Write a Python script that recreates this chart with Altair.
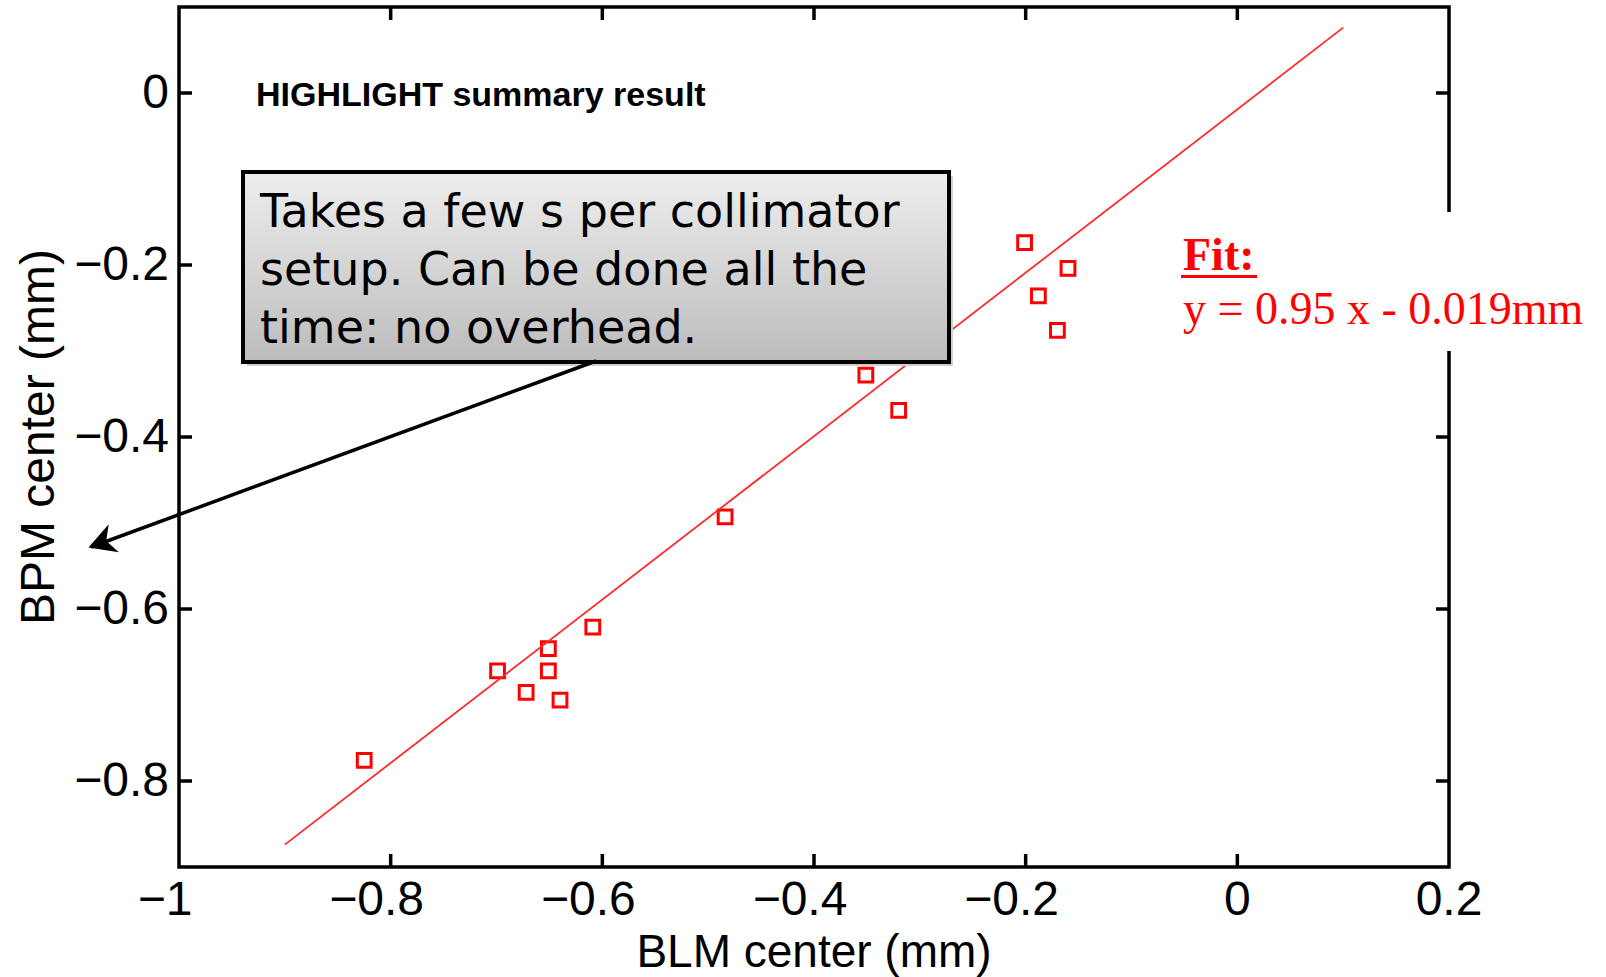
import altair as alt
import pandas as pd

# Beam centre found from BLM losses vs. centre from BPM readings (mm)
blm_center = [-0.825, -0.699, -0.672, -0.651, -0.651, -0.640, -0.609,
              -0.484, -0.351, -0.320, -0.201, -0.188, -0.170, -0.160]
bpm_center = [-0.776, -0.672, -0.697, -0.646, -0.672, -0.706, -0.621,
              -0.493, -0.328, -0.369, -0.174, -0.236, -0.276, -0.204]

# Linear fit y = slope * x + intercept, drawn across this BLM range
fit_slope = 0.95
fit_intercept = -0.019
fit_x = [-0.9, 0.1]

x_ticks = [-1, -0.8, -0.6, -0.4, -0.2, 0, 0.2]
x_tick_labels = ["\u22121", "\u22120.8", "\u22120.6", "\u22120.4", "\u22120.2", "0", "0.2"]
y_ticks = [-0.8, -0.6, -0.4, -0.2, 0]
y_tick_labels = ["\u22120.8", "\u22120.6", "\u22120.4", "\u22120.2", "0"]

x_title = "BLM center (mm)"
y_title = "BPM center (mm)"
note_text = "HIGHLIGHT summary result"
callout_lines = ["Takes a few s per collimator",
                 "setup. Can be done all the",
                 "time: no overhead."]
fit_heading = "Fit:"
fit_equation = f"y = {fit_slope:g} x - {abs(fit_intercept):g}mm"

# ---------------------------------------------------------------- layout
W, H = 1270, 860
SANS = "Liberation Sans"
SERIF = "Liberation Serif"
RED = "#ff0000"
LABEL_SIZE = 48

xs = alt.Scale(domain=[-1, 0.2], nice=False, zero=False)
ys = alt.Scale(domain=[-0.9, 0.1], nice=False, zero=False)

points_df = pd.DataFrame({"blm": blm_center, "bpm": bpm_center})
fit_df = pd.DataFrame({"x": fit_x,
                       "y": [fit_slope * v + fit_intercept for v in fit_x]})
xlab_df = pd.DataFrame({"t": x_ticks, "label": x_tick_labels})
ylab_df = pd.DataFrame({"t": y_ticks, "label": y_tick_labels})
xtick_df = pd.DataFrame({"t": x_ticks[1:-1]})
ytick_df = pd.DataFrame({"t": y_ticks})
one = pd.DataFrame({"k": [0]})


def X(field):
    return alt.X(field, scale=xs, axis=None)


def Y(field):
    return alt.Y(field, scale=ys, axis=None)


# measured points
points = alt.Chart(points_df).mark_point(
    shape="square", filled=False, color=RED, size=190, strokeWidth=3, opacity=1
).encode(x=X("blm:Q"), y=Y("bpm:Q"))

# fitted straight line
fit_line = alt.Chart(fit_df).mark_line(color="#ff2a2a", strokeWidth=1.8).encode(
    x=X("x:Q"), y=Y("y:Q"))

# inward tick marks on all four sides of the frame
TL = 13
tick_style = dict(color="black", strokeWidth=3.5)
ticks_bottom = alt.Chart(xtick_df).mark_rule(**tick_style).encode(
    x=X("t:Q"), y=alt.value(H), y2=alt.value(H - TL))
ticks_top = alt.Chart(xtick_df).mark_rule(**tick_style).encode(
    x=X("t:Q"), y=alt.value(0), y2=alt.value(TL))
ticks_left = alt.Chart(ytick_df).mark_rule(**tick_style).encode(
    y=Y("t:Q"), x=alt.value(0), x2=alt.value(TL))
ticks_right = alt.Chart(ytick_df).mark_rule(**tick_style).encode(
    y=Y("t:Q"), x=alt.value(W), x2=alt.value(W - TL))

# tick labels: the unsigned part sits centred under the tick, the minus hangs left
label_style = dict(font=SANS, fontSize=LABEL_SIZE, color="black", baseline="alphabetic")
xlab_neg = alt.Chart(xlab_df).transform_filter("datum.t < 0").mark_text(
    align="center", dx=-14, **label_style
).encode(x=X("t:Q"), y=alt.value(H + 48), text="label:N")
xlab_pos = alt.Chart(xlab_df).transform_filter("datum.t >= 0").mark_text(
    align="center", **label_style
).encode(x=X("t:Q"), y=alt.value(H + 48), text="label:N")
ylab = alt.Chart(ylab_df).mark_text(
    align="right", dy=1, font=SANS, fontSize=LABEL_SIZE, color="black",
    baseline="middle"
).encode(y=Y("t:Q"), x=alt.value(-10), text="label:N")

# axis titles
xtitle = alt.Chart(one).mark_text(
    text=x_title, font=SANS, fontSize=46, color="black",
    align="center", baseline="alphabetic"
).encode(x=alt.value(W / 2), y=alt.value(H + 100))
ytitle = alt.Chart(one).mark_text(
    text=y_title, font=SANS, fontSize=48, color="black",
    align="center", baseline="alphabetic", angle=270
).encode(x=alt.value(-125), y=alt.value(430))

# header note
note = alt.Chart(one).mark_text(
    text=note_text, font=SANS, fontSize=34, fontWeight="bold", color="black",
    align="left", baseline="alphabetic"
).encode(x=alt.value(77), y=alt.value(99))

# grey callout box with a drop shadow
box_shadow = alt.Chart(one).mark_rect(fill="#cfcfcf", strokeWidth=0).encode(
    x=alt.value(68), x2=alt.value(774), y=alt.value(169), y2=alt.value(359))
box = alt.Chart(one).mark_rect(
    fill={"gradient": "linear", "x1": 0, "y1": 0, "x2": 0, "y2": 1,
          "stops": [{"offset": 0, "color": "#eeeeee"},
                    {"offset": 1, "color": "#bcbcbc"}]},
    stroke="black", strokeWidth=4
).encode(x=alt.value(64), x2=alt.value(770), y=alt.value(165), y2=alt.value(355))
box_text = alt.Chart(one).mark_text(
    text=callout_lines, font="DejaVu Sans", fontSize=46, color="black",
    align="left", baseline="alphabetic", lineHeight=58
).encode(x=alt.value(81), y=alt.value(220))

# arrow from the callout towards the axis
arrow = alt.Chart(one).mark_rule(color="black", strokeWidth=3.5).encode(
    x=alt.value(417), y=alt.value(354), x2=alt.value(-88), y2=alt.value(540))
arrow_head = alt.Chart(one).mark_point(
    shape="M 0 0 L -1 -0.55 L -0.7 0 L -1 0.55 Z", size=2900, angle=159.85,
    filled=True, color="black", strokeWidth=1, opacity=1
).encode(x=alt.value(-90.5), y=alt.value(540.5))

# fit annotation on a white patch that interrupts the right frame edge
fit_patch = alt.Chart(one).mark_rect(fill="white", strokeWidth=0).encode(
    x=alt.value(975), x2=alt.value(1440), y=alt.value(205), y2=alt.value(344))
fit_head = alt.Chart(one).mark_text(
    text=fit_heading, font=SERIF, fontSize=46, fontWeight="bold", color=RED,
    align="left", baseline="alphabetic"
).encode(x=alt.value(1004), y=alt.value(263))
fit_underline = alt.Chart(one).mark_rule(color=RED, strokeWidth=3.2).encode(
    x=alt.value(1002), x2=alt.value(1078), y=alt.value(269.5))
fit_eq = alt.Chart(one).mark_text(
    text=fit_equation, font=SERIF, fontSize=46, color=RED,
    align="left", baseline="alphabetic"
).encode(x=alt.value(1004), y=alt.value(317))

chart = alt.layer(
    points, fit_line,
    ticks_bottom, ticks_top, ticks_left, ticks_right,
    xlab_neg, xlab_pos, ylab, xtitle, ytitle,
    note, box_shadow, box, box_text, arrow, arrow_head,
    fit_patch, fit_head, fit_underline, fit_eq,
).properties(
    width=W, height=H,
    autosize=alt.AutoSizeParams(type="none"),
    padding={"left": 179, "top": 7, "right": 157, "bottom": 110},
    background="white",
).configure_view(
    stroke="black", strokeWidth=3.5
)

chart.save("out.html", embed_options={"renderer": "svg", "actions": False})
